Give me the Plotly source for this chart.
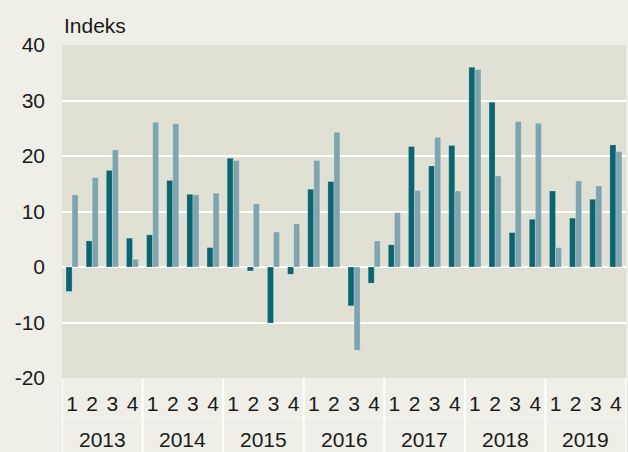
import plotly.graph_objects as go

years = ["2013", "2014", "2015", "2016", "2017", "2018", "2019"]
quarters = ["1", "2", "3", "4"]

series_a = [-4.4, 4.7, 17.4, 5.2,
            5.8, 15.6, 13.1, 3.5,
            19.6, -0.7, -10.1, -1.3,
            14.0, 15.4, -7.0, -2.9,
            4.0, 21.7, 18.2, 21.9,
            36.0, 29.7, 6.2, 8.6,
            13.7, 8.8, 12.2, 22.0]
series_b = [13.0, 16.1, 21.1, 1.4,
            26.1, 25.8, 13.0, 13.3,
            19.2, 11.4, 6.3, 7.8,
            19.2, 24.3, -15.0, 4.7,
            9.8, 13.8, 23.4, 13.7,
            35.6, 16.4, 26.2, 25.9,
            3.5, 15.5, 14.6, 20.8]

y_ticks = [-20, -10, 0, 10, 20, 30, 40]
y_ticktext = ["-20", "-10", "0", "10", "20", "30", "40"]

n = len(years) * len(quarters)
xpos = list(range(n))
ticktext = quarters * len(years)

FONT = "Liberation Sans, Arial, sans-serif"
fig = go.Figure()
fig.add_trace(go.Bar(x=xpos, y=series_a, marker=dict(color="#0A6570", line=dict(color="rgba(255,255,255,0.25)", width=0.8)), name="A"))
fig.add_trace(go.Bar(x=xpos, y=series_b, marker=dict(color="#7EA4AD", line=dict(color="rgba(255,255,255,0.3)", width=0.8)), name="B"))

shapes = []
for i in range(len(years) + 1):
    shapes.append(dict(type="line", xref="x", yref="paper", x0=i * 4 - 0.5, x1=i * 4 - 0.5,
                       y0=0, y1=-0.23, line=dict(color="white", width=2), layer="above"))
shapes.append(dict(type="line", xref="paper", yref="paper", x0=0, x1=1, y0=-0.117, y1=-0.117,
                   line=dict(color="#F6F6F1", width=1), layer="below"))

annotations = [dict(text="Indeks", xref="paper", yref="paper", x=0, y=1, xanchor="left", yanchor="bottom",
                    xshift=0, yshift=6, showarrow=False, font=dict(size=21, color="#1a1a1a", family=FONT))]
for i, yr in enumerate(years):
    annotations.append(dict(text=yr, xref="x", yref="paper", x=i * 4 + 1.5, y=0, yanchor="top",
                            yshift=-48, showarrow=False, font=dict(size=21, color="#1a1a1a", family=FONT)))

fig.update_layout(
    width=628, height=452,
    margin=dict(l=62, r=2, t=45, b=74),
    paper_bgcolor="#EFEFE8",
    plot_bgcolor="#E0E0D5",
    barmode="group", bargap=0.4, bargroupgap=0,
    showlegend=False,
    shapes=shapes,
    annotations=annotations,
    font=dict(family=FONT, color="#1a1a1a"),
    xaxis=dict(range=[-0.5, n - 0.5], tickmode="array", tickvals=xpos, ticktext=ticktext,
               showgrid=False, zeroline=False, ticks="", tickfont=dict(size=21),
               ticklabelstandoff=11, fixedrange=True),
    yaxis=dict(range=[-20, 40], tickmode="array", tickvals=y_ticks, ticktext=y_ticktext,
               showgrid=True, gridcolor="white", gridwidth=2,
               zeroline=True, zerolinecolor="white", zerolinewidth=2,
               ticks="", tickfont=dict(size=21), ticklabelstandoff=16, fixedrange=True),
)

fig.write_html("out.html", config={"displayModeBar": False},
               post_script="document.body.style.margin='0';document.body.style.overflow='hidden';")
